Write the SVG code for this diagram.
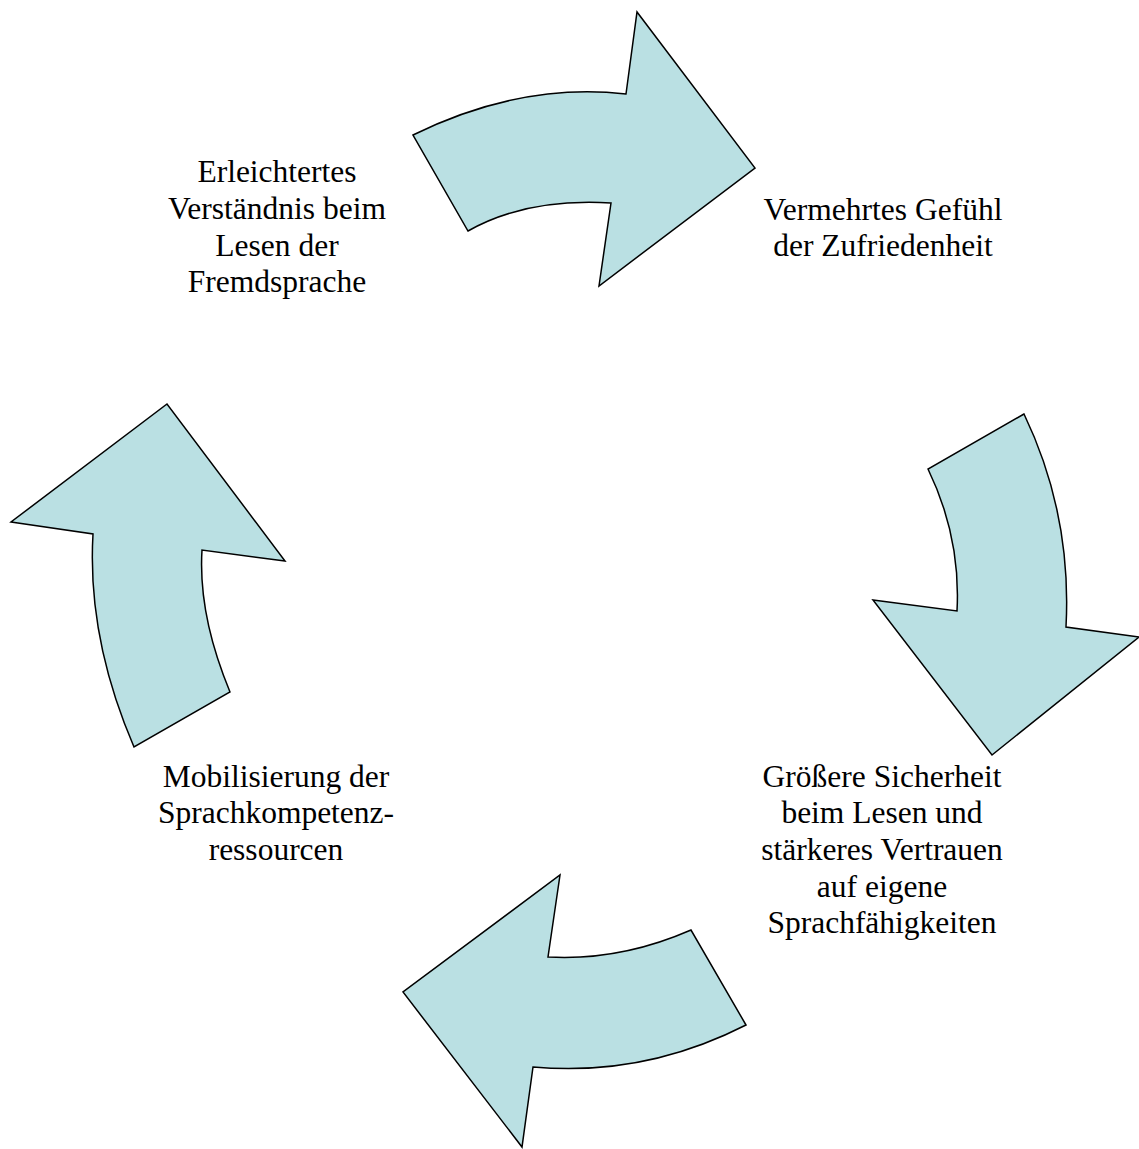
<svg xmlns="http://www.w3.org/2000/svg" width="1139" height="1149" viewBox="0 0 1139 1149">
<style>
.arrow{fill:#BAE0E3;stroke:#000;stroke-width:1.5;stroke-linejoin:miter}
.lbl{font-family:"Liberation Serif","Times New Roman",serif;font-size:31.5px;fill:#000;text-anchor:middle}
</style>
<rect width="1139" height="1149" fill="#fff"/>
<g id="connectors">
<path id="arrow-top" class="arrow" d="M413,135 Q521,82 626,94 L637,12 L755,168 L599,286 L611,203 Q526,198 468,231 Z"/>
<path id="arrow-right" class="arrow" d="M1024,414 L928,469 Q961,537 957,611 L873,600 L992,755 L1139,637 L1066,627 Q1072,514 1024,414 Z"/>
<path id="arrow-bottom" class="arrow" d="M691,930 Q620,961 548,957 L560,875 L403,992 L522,1147 L533,1067 Q644,1077 746,1025 Z"/>
<path id="arrow-left" class="arrow" d="M134,747 Q87,638 93,534 L11,522 L167,404 L285,561 L202,550 Q198,615 230,692 Z"/>
</g>
<g id="node-erleichtertes">
<text class="lbl" x="277" y="182">Erleichtertes</text>
<text class="lbl" x="277" y="219">Verständnis beim</text>
<text class="lbl" x="277" y="256">Lesen der</text>
<text class="lbl" x="277" y="292">Fremdsprache</text>
</g>
<g id="node-gefuehl">
<text class="lbl" x="883" y="220">Vermehrtes Gefühl</text>
<text class="lbl" x="883" y="256">der Zufriedenheit</text>
</g>
<g id="node-sicherheit">
<text class="lbl" x="882" y="787">Größere Sicherheit</text>
<text class="lbl" x="882" y="823">beim Lesen und</text>
<text class="lbl" x="882" y="860">stärkeres Vertrauen</text>
<text class="lbl" x="882" y="897">auf eigene</text>
<text class="lbl" x="882" y="933">Sprachfähigkeiten</text>
</g>
<g id="node-mobilisierung">
<text class="lbl" x="276" y="787">Mobilisierung der</text>
<text class="lbl" x="276" y="823">Sprachkompetenz-</text>
<text class="lbl" x="276" y="860">ressourcen</text>
</g>
</svg>
